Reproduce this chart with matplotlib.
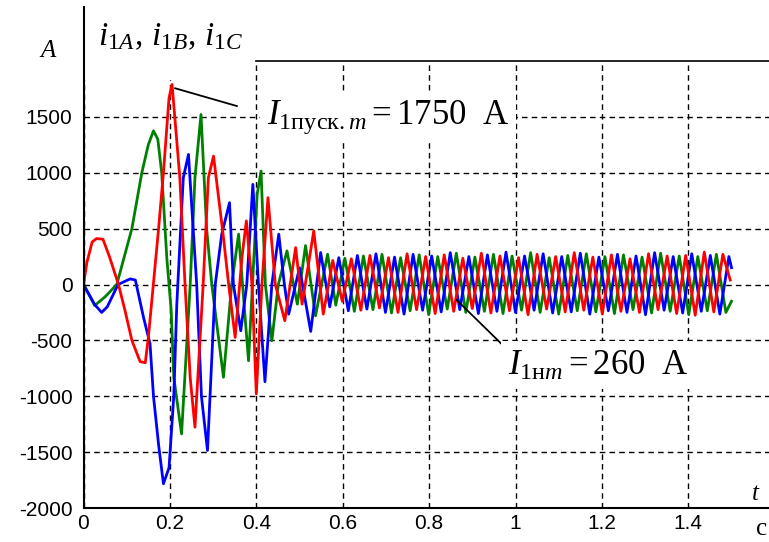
import matplotlib.pyplot as plt
from matplotlib.lines import Line2D
from matplotlib.patches import Rectangle

plt.rcParams['mathtext.fontset'] = 'custom'
plt.rcParams['mathtext.rm'] = 'Liberation Serif'
plt.rcParams['mathtext.it'] = 'Liberation Serif:italic'

# phase A (red)
t_a = [0, 0.008, 0.02, 0.03, 0.045, 0.06, 0.081, 0.096, 0.112, 0.131, 0.143, 0.150,
       0.174, 0.185, 0.198, 0.205, 0.223, 0.235, 0.247, 0.258, 0.277, 0.289, 0.301,
       0.324, 0.336, 0.351, 0.367, 0.377, 0.390, 0.400, 0.413, 0.427, 0.444, 0.466,
       0.491, 0.506, 0.533, 0.555,
       0.577, 0.599, 0.620, 0.642, 0.663, 0.685, 0.706, 0.728, 0.749, 0.771, 0.792,
       0.814, 0.835, 0.857, 0.878, 0.900, 0.921, 0.943, 0.964, 0.986, 1.007, 1.029,
       1.050, 1.072, 1.093, 1.115, 1.136, 1.158, 1.179, 1.201, 1.222, 1.244, 1.265,
       1.287, 1.308, 1.330, 1.351, 1.373, 1.394, 1.416, 1.437, 1.459, 1.480, 1.497]
i_a = [0, 200, 380, 411, 405, 250, 0, -232, -500, -690, -700, -480,
       509, 1000, 1670, 1790, 955, 0, -835, -1277, 0, 955, 1149,
       420, 0, -473, 250, 569, 0, -980, 0, 777, 0, -324,
       330, -176, 479, -265,
       215, -150, 230, -230, 260, -210, 240, -250, 275, -225, 250,
       -260, 265, -240, 235, -215, 280, -255, 255, -235, 240, -270,
       270, -220, 250, -245, 285, -230, 245, -265, 265, -240, 230,
       -250, 275, -225, 255, -260, 260, -275, 290, -245, 270, 40]

# phase B (blue)
t_b = [0, 0.026, 0.042, 0.055, 0.08, 0.108, 0.12, 0.139, 0.154, 0.162, 0.174, 0.185,
       0.198, 0.209, 0.216, 0.231, 0.243, 0.262, 0.273, 0.287, 0.305, 0.320, 0.338,
       0.347, 0.364, 0.378, 0.392, 0.405, 0.420, 0.436, 0.452, 0.465, 0.475, 0.500,
       0.526, 0.549,
       0.570, 0.591, 0.613, 0.634, 0.656, 0.677, 0.699, 0.720, 0.742, 0.763, 0.785,
       0.806, 0.828, 0.849, 0.871, 0.892, 0.914, 0.935, 0.957, 0.978, 1.000, 1.021,
       1.043, 1.064, 1.086, 1.107, 1.129, 1.150, 1.172, 1.193, 1.215, 1.236, 1.258,
       1.279, 1.301, 1.322, 1.344, 1.365, 1.387, 1.408, 1.430, 1.451, 1.473, 1.494, 1.500]
i_b = [0, -180, -250, -200, 0, 50, 40, -295, -530, -1000, -1440, -1783,
       -1640, -1000, -175, 955, 1164, 0, -1000, -1485, 0, 450, 732,
       0, -414, 0, 896, 0, -870, 0, 450, 0, -265, 150,
       -420, 286,
       -200, 240, -235, 260, -220, 275, -250, 245, -265, 270, -230,
       255, -245, 285, -225, 250, -260, 265, -240, 290, -250, 255,
       -230, 275, -255, 250, -245, 280, -265, 245, -235, 270, -250,
       255, -270, 285, -230, 250, -255, 275, -240, 260, -265, 250, 150]

# phase C (green)
t_c = [0, 0.026, 0.05, 0.077, 0.112, 0.135, 0.150, 0.162, 0.172, 0.181, 0.193, 0.203,
       0.209, 0.227, 0.247, 0.258, 0.272, 0.285, 0.297, 0.324, 0.343, 0.359, 0.382,
       0.402, 0.411, 0.421, 0.436, 0.451, 0.471, 0.495, 0.514, 0.537, 0.565,
       0.584, 0.605, 0.627, 0.648, 0.670, 0.691, 0.713, 0.734, 0.756, 0.777, 0.799,
       0.820, 0.842, 0.863, 0.885, 0.906, 0.928, 0.949, 0.971, 0.992, 1.014, 1.035,
       1.057, 1.078, 1.100, 1.121, 1.143, 1.164, 1.186, 1.207, 1.229, 1.250, 1.272,
       1.293, 1.315, 1.336, 1.358, 1.379, 1.401, 1.422, 1.444, 1.465, 1.487, 1.500]
i_c = [0, -188, -110, 0, 500, 1000, 1250, 1375, 1300, 1000, 230, -232,
       -830, -1337, 0, 955, 1521, 500, 0, -830, 0, 450, -682,
       806, 1015, 0, -503, 0, 301, -176, 348, -280, 271,
       -185, 235, -240, 255, -225, 270, -255, 240, -235, 265, -270,
       250, -220, 280, -250, 245, -240, 270, -260, 255, -230, 285,
       -250, 240, -265, 260, -235, 275, -245, 250, -260, 265, -225,
       245, -255, 280, -240, 255, -270, 250, -235, 270, -250, -150]

xticks = [0, 0.2, 0.4, 0.6, 0.8, 1.0, 1.2, 1.4]
xlabels = ['0', '0.2', '0.4', '0.6', '0.8', '1', '1.2', '1.4']
yticks = [-2000, -1500, -1000, -500, 0, 500, 1000, 1500]

W, H = 769, 542
fig = plt.figure(figsize=(W / 100, H / 100), dpi=100)
ax = fig.add_axes([83.5 / W, 34 / H, (W - 83.5) / W, 447 / H])

ax.plot(t_c, i_c, color='#008000', lw=2.0, zorder=2)
ax.plot(t_b, i_b, color='#0000ff', lw=2.0, zorder=3)
ax.plot(t_a, i_a, color='#ff0000', lw=2.0, zorder=4)

ax.set_xlim(0, (W - 83.5) / 432)
ax.set_ylim(-2000, 2000)
ax.set_xticks(xticks)
ax.set_xticklabels(xlabels)
ax.set_yticks(yticks)
ax.set_yticklabels([str(v) for v in yticks])
ax.tick_params(length=0, labelsize=15)
ax.tick_params(axis='y', pad=8)
ax.tick_params(axis='x', pad=4)
for lab in ax.get_xticklabels() + ax.get_yticklabels():
    lab.set_family('Liberation Sans')

ax.set_axisbelow(True)
ax.grid(True, color='black', linestyle=(0, (4, 3)), lw=1.0)

for s in ['top', 'right', 'left']:
    ax.spines[s].set_visible(False)
ax.spines['bottom'].set_linewidth(1.5)

# white area over the upper-left corner and partial top frame
ax.add_patch(Rectangle((0, 1830), 0.39, 200, facecolor='white', edgecolor='none', zorder=1))
ax.plot([0.4, 2.0], [2000, 2000], color='black', lw=1.2, clip_on=False, zorder=5)
fig.add_artist(Line2D([83.5 / W, 83.5 / W], [34 / H, 535 / H], color='black', lw=1.5))

# annotations
ax.plot([0.212, 0.355], [1756, 1597], color='black', lw=1.3, zorder=6)
ax.plot([0.864, 0.968], [-139, -533], color='black', lw=1.3, zorder=6)
box = dict(facecolor='white', edgecolor='none', pad=5)
ax.text(0.425, 1436, r'$I_{1\mathrm{пуск.}m}=\mathrm{1750\ \ A}$', fontsize=25,
        ha='left', va='baseline', bbox=box, zorder=7)
ax.text(0.9826, -810, r'$I_{1\mathrm{н}m}=\mathrm{260\ \ A}$', fontsize=25,
        ha='left', va='baseline', bbox=box, zorder=7)

fig.text(98 / W, (H - 45) / H, r'$i_{1A},\, i_{1B},\, i_{1C}$', fontsize=24,
         ha='left', va='baseline')
fig.text(40 / W, (H - 57) / H, 'A', fontsize=18, style='italic',
         family='Liberation Serif', ha='left', va='baseline')
fig.text(752 / W, (H - 500) / H, 't', fontsize=18, style='italic',
         family='Liberation Serif', ha='left', va='baseline')
fig.text(756 / W, (H - 535) / H, 'с', fontsize=18,
         family='Liberation Serif', ha='left', va='baseline')

fig.savefig('out.png', dpi=100)
